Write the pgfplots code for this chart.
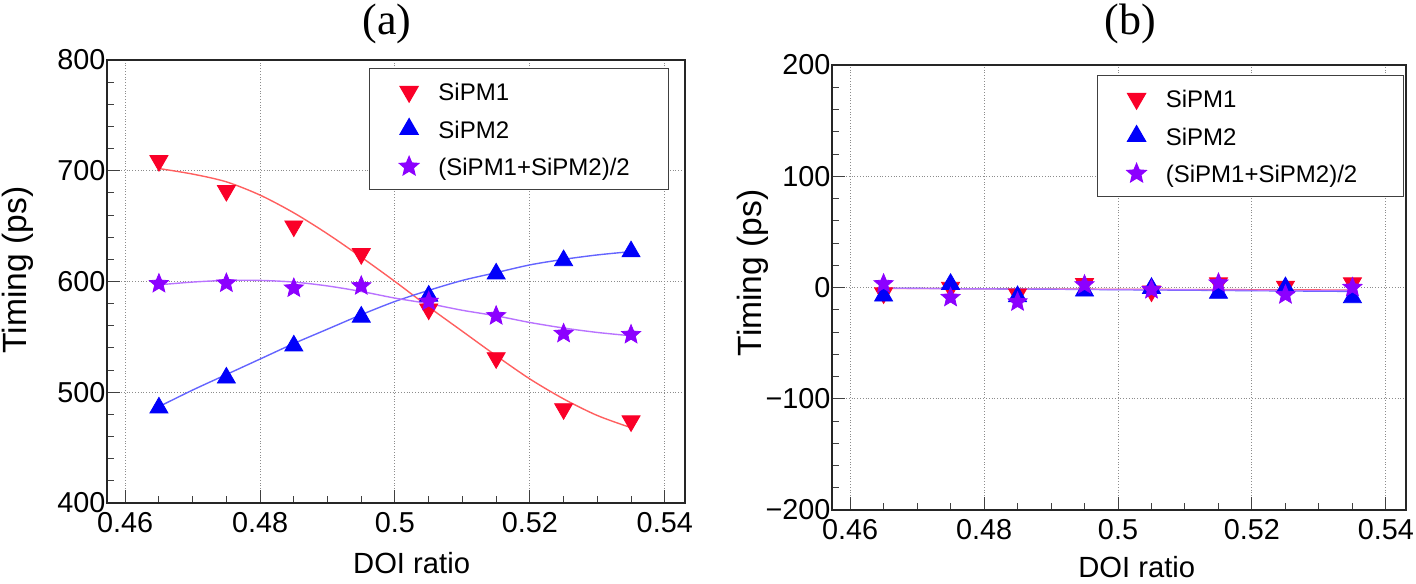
\documentclass[border=0pt]{standalone}
\usepackage{fontspec}
\setmainfont{Liberation Sans}
\newfontfamily\titlefont{Liberation Serif}
\usepackage{pgfplots}
\pgfplotsset{compat=1.18}

\definecolor{sred}{RGB}{250,0,40}
\definecolor{sblue}{RGB}{0,0,250}
\definecolor{spurp}{RGB}{140,0,255}
\definecolor{fred}{RGB}{255,95,95}
\definecolor{fblue}{RGB}{100,100,255}
\definecolor{fpurp}{RGB}{185,115,255}

\newlength{\lgdw}
\newcommand{\lgd}[1]{\makebox[\lgdw][l]{#1}}

\pgfplotsset{
  rootframe/.style={
    scale only axis,
    xmin=0.4573, xmax=0.5430,
    xtick={0.46,0.48,0.5,0.52,0.54},
    xticklabels={0.46,0.48,0.5,0.52,0.54},
    minor x tick num=3,
    minor y tick num=4,
    tick align=inside,
    xtick pos=lower, ytick pos=left,
    major tick length=6.5pt,
    minor tick length=3.5pt,
    grid=major,
    major grid style={densely dotted, black!45, line width=0.5pt},
    axis line style={black!85, line width=0.7pt},
    tick style={black!75, line width=0.5pt},
    /pgf/number format/assume math mode=true,
    ticklabel style={font=\fontsize{14.4}{16}\selectfont},
    xticklabel style={inner sep=4.5pt},
    yticklabel style={inner xsep=0.6pt},
    xlabel={DOI ratio},
    ylabel={Timing (ps)},
    xlabel style={anchor=center, font=\fontsize{14.6}{17}\selectfont},
    ylabel style={anchor=center, font=\fontsize{16.8}{19}\selectfont},
    legend cell align=left,
    legend style={
      anchor=north east,
      draw=black!75, line width=0.6pt,
      font=\fontsize{12}{14}\selectfont,
      inner xsep=14.9pt, inner ysep=5pt,
      row sep=5.75pt,
      nodes={inner sep=2pt, text height=9pt, text depth=0pt},
      /tikz/every odd column/.append style={column sep=7.9pt},
    },
  },
  mred/.style={only marks, mark=triangle*, mark options={rotate=180, fill=sred, draw=sred}, mark size=5.2pt},
  mblue/.style={only marks, mark=triangle*, mark options={fill=sblue, draw=sblue}, mark size=5.2pt},
  mpurp/.style={only marks, mark=rootstar, mark options={fill=spurp, draw=spurp}, mark size=5pt},
}
% filled five-point star
\pgfdeclareplotmark{rootstar}{%
  \pgfpathmoveto{\pgfqpointpolar{90}{\pgfplotmarksize}}%
  \pgfpathlineto{\pgfqpointpolar{126}{0.45\pgfplotmarksize}}%
  \pgfpathlineto{\pgfqpointpolar{162}{\pgfplotmarksize}}%
  \pgfpathlineto{\pgfqpointpolar{198}{0.45\pgfplotmarksize}}%
  \pgfpathlineto{\pgfqpointpolar{234}{\pgfplotmarksize}}%
  \pgfpathlineto{\pgfqpointpolar{270}{0.45\pgfplotmarksize}}%
  \pgfpathlineto{\pgfqpointpolar{306}{\pgfplotmarksize}}%
  \pgfpathlineto{\pgfqpointpolar{342}{0.45\pgfplotmarksize}}%
  \pgfpathlineto{\pgfqpointpolar{18}{\pgfplotmarksize}}%
  \pgfpathlineto{\pgfqpointpolar{54}{0.45\pgfplotmarksize}}%
  \pgfpathclose
  \pgfusepathqfillstroke}

\begin{document}
\begin{tikzpicture}
\useasboundingbox (0,0) rectangle (708pt,-291.5pt);

% ---------------- (a) ----------------
\setlength{\lgdw}{98pt}
\begin{axis}[
  rootframe,
  at={(53.5pt,-251.5pt)}, anchor=south west,
  width=289pt, height=221.5pt,
  ymin=400, ymax=800,
  ytick={400,500,600,700,800},
  xlabel style={at={(axis description cs:0.527,-0.135)}},
  ylabel style={at={(axis description cs:-0.154,0.526)}},
  legend style={at={(axis description cs:0.972,0.982)}},
]
% fitted curves
\addplot[fred, line width=0.7pt, smooth, forget plot] coordinates {
  (0.465,702) (0.470,697) (0.475,690) (0.480,678) (0.485,662) (0.490,643)
  (0.495,622) (0.500,600) (0.505,577) (0.510,555) (0.515,533) (0.520,512)
  (0.525,494) (0.530,479) (0.535,468)
};
\addplot[fblue, line width=0.7pt, smooth, forget plot] coordinates {
  (0.465,487) (0.470,502) (0.475,516) (0.480,530) (0.485,544) (0.490,557)
  (0.495,570) (0.500,582) (0.505,592) (0.510,601) (0.515,608) (0.520,615)
  (0.525,620) (0.530,624) (0.535,627)
};
\addplot[fpurp, line width=0.7pt, smooth, forget plot] coordinates {
  (0.465,597) (0.470,599.5) (0.475,601) (0.480,601) (0.485,599.5) (0.490,596)
  (0.495,591) (0.500,585) (0.505,580) (0.510,574) (0.515,569) (0.520,563)
  (0.525,558) (0.530,554) (0.535,551)
};
% measured points
\addplot[mred] coordinates {
  (0.465,709) (0.475,682) (0.485,650) (0.495,625)
  (0.505,575) (0.515,531) (0.525,485) (0.535,474)
};
\addlegendentry{\lgd{SiPM1}}
\addplot[mblue] coordinates {
  (0.465,486) (0.475,513) (0.485,542) (0.495,568)
  (0.505,587) (0.515,607) (0.525,619) (0.535,627)
};
\addlegendentry{\lgd{SiPM2}}
\addplot[mpurp] coordinates {
  (0.465,598) (0.475,598.5) (0.485,594) (0.495,596)
  (0.505,582) (0.515,569) (0.525,553) (0.535,552)
};
\addlegendentry{\lgd{(SiPM1+SiPM2)/2}}
\end{axis}

% ---------------- (b) ----------------
\setlength{\lgdw}{102pt}
\begin{axis}[
  rootframe,
  at={(416pt,-255pt)}, anchor=south west,
  width=287pt, height=222.5pt,
  ymin=-200, ymax=200,
  ytick={-200,-100,0,100,200},
  yticklabels={−200,−100,0,100,200},
  xlabel style={at={(axis description cs:0.531,-0.128)}},
  ylabel style={at={(axis description cs:-0.138,0.533)}},
  legend style={at={(axis description cs:0.997,0.9775)}},
]
\addplot[fred, line width=0.6pt, forget plot] coordinates {(0.465,-0.8) (0.535,-2.2)};
\addplot[fblue, line width=0.6pt, forget plot] coordinates {(0.465,-0.5) (0.535,-3.6)};
\addplot[fpurp, line width=0.6pt, forget plot] coordinates {(0.465,-0.7) (0.535,-2.8)};
\addplot[mred] coordinates {
  (0.465,-5) (0.475,0) (0.485,-6) (0.495,3.3)
  (0.505,-3.3) (0.515,4) (0.525,1) (0.535,4)
};
\addlegendentry{\lgd{SiPM1}}
\addplot[mblue] coordinates {
  (0.465,-7.5) (0.475,3) (0.485,-8) (0.495,-3)
  (0.505,-0.6) (0.515,-5) (0.525,0) (0.535,-9)
};
\addlegendentry{\lgd{SiPM2}}
\addplot[mpurp] coordinates {
  (0.465,3.3) (0.475,-9) (0.485,-13) (0.495,2.4)
  (0.505,-2) (0.515,4) (0.525,-6.6) (0.535,0)
};
\addlegendentry{\lgd{(SiPM1+SiPM2)/2}}
\end{axis}

% panel titles
\node[font=\titlefont\fontsize{22}{24}\selectfont] at (193.5pt,-12pt) {(a)};
\node[font=\titlefont\fontsize{22}{24}\selectfont] at (565pt,-12pt) {(b)};
\end{tikzpicture}
\end{document}
